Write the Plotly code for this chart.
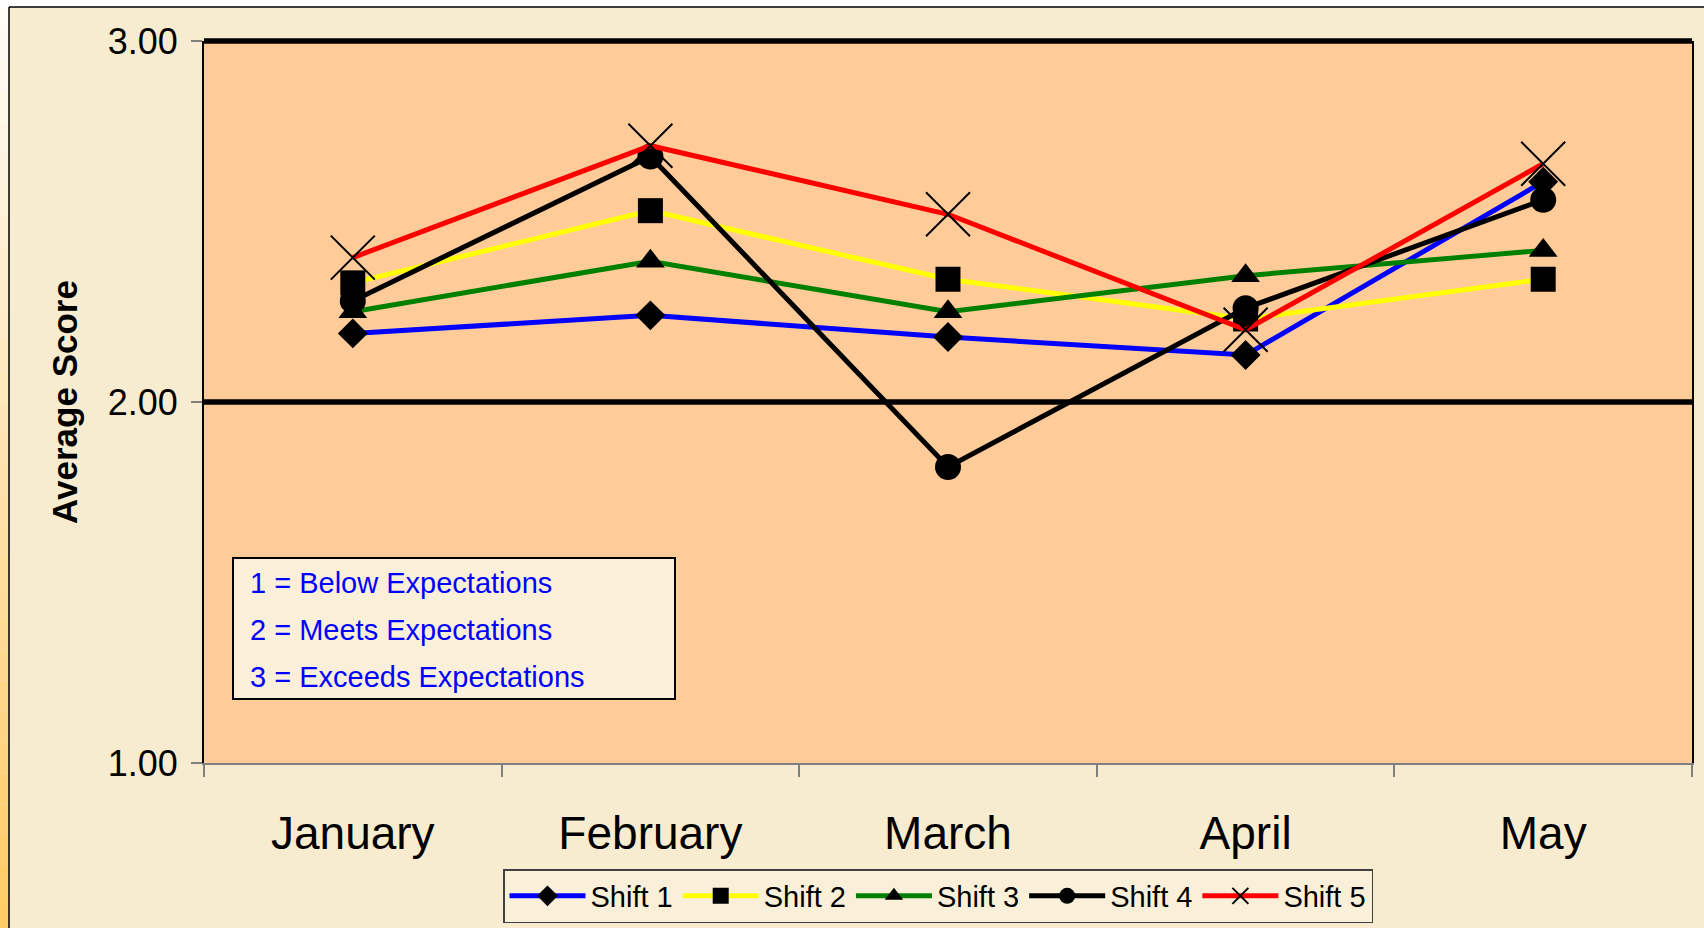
import plotly.graph_objects as go

months = ["January", "February", "March", "April", "May"]
series_names = ["Shift 1", "Shift 2", "Shift 3", "Shift 4", "Shift 5"]
shift1 = [2.19, 2.24, 2.18, 2.13, 2.61]
shift2 = [2.33, 2.53, 2.34, 2.23, 2.34]
shift3 = [2.25, 2.39, 2.25, 2.35, 2.42]
shift4 = [2.28, 2.68, 1.82, 2.26, 2.56]
shift5 = [2.40, 2.71, 2.52, 2.20, 2.66]
y_ticks = [1, 2, 3]
y_range = [1, 3]
grid_levels = [2, 3]
key_lines = ["1 = Below Expectations", "2 = Meets Expectations", "3 = Exceeds Expectations"]
key_levels = [1.498, 1.368, 1.239]

W, H = 1704, 928
L, R, T, B = 204, 12, 41, 165
PW = W - L - R
PH = H - T - B

def px(x):
    return (x - L) / PW

def py(y):
    return (H - B - y) / PH

line_colors = ["#0000FF", "#FFFF00", "#008000", "#000000", "#FF0000"]
symbols = ["diamond", "square", "triangle-up", "circle", "x-thin-open"]
sizes = [23, 25, 25, 26, 44]
all_series = [shift1, shift2, shift3, shift4, shift5]

fig = go.Figure()
for name, vals, c, s, sz in zip(series_names, all_series, line_colors, symbols, sizes):
    fig.add_trace(go.Scatter(
        x=months, y=vals, name=name, mode="lines+markers",
        line=dict(color=c, width=5),
        marker=dict(symbol=s, size=sz, color="black",
                    line=dict(color="black", width=2 if s == "x-thin-open" else 0)),
    ))

shapes = []
# left gradient strip
n = 30
c0 = (255, 252, 246)
c1 = (255, 204, 102)
for i in range(n):
    t = i / (n - 1)
    col = tuple(int(c0[k] + (c1[k] - c0[k]) * t) for k in range(3))
    y0 = i * H / n
    y1 = (i + 1) * H / n
    shapes.append(dict(type="rect", xref="paper", yref="paper",
                       x0=px(0), x1=px(9), y0=py(y1), y1=py(y0),
                       fillcolor="rgb(%d,%d,%d)" % col, line=dict(width=0), layer="below"))
# white band above frame
shapes.append(dict(type="rect", xref="paper", yref="paper", x0=px(0), x1=px(W), y0=py(7), y1=py(0),
                   fillcolor="white", line=dict(width=0), layer="below"))
# frame lines
shapes.append(dict(type="line", xref="paper", yref="paper", x0=px(9), x1=px(W), y0=py(7), y1=py(7),
                   line=dict(color="black", width=1.5)))
shapes.append(dict(type="line", xref="paper", yref="paper", x0=px(9), x1=px(9), y0=py(7), y1=py(H),
                   line=dict(color="black", width=1.5)))
# horizontal gridlines (paper-referenced so the top one is not clipped)
for g in grid_levels:
    gp = (g - y_range[0]) / (y_range[1] - y_range[0])
    shapes.append(dict(type="line", xref="paper", yref="paper", x0=0, x1=1, y0=gp, y1=gp,
                       line=dict(color="black", width=5.5), layer="below" if gp < 1 else "above"))
# key box
shapes.append(dict(type="rect", xref="paper", yref="y", x0=px(233), x1=px(675), y0=1.177, y1=1.568,
                   fillcolor="#FAF0D9", line=dict(color="black", width=2), layer="below"))

annotations = []
for txt, lv in zip(key_lines, key_levels):
    annotations.append(dict(x=px(248), y=lv, xref="paper", yref="y", text=txt, showarrow=False,
                            xanchor="left", yanchor="middle",
                            font=dict(family="Arial, Liberation Sans", size=29, color="#0000FF")))

fig.update_layout(
    width=W, height=H,
    margin=dict(l=L, r=R, t=T, b=B, pad=0, autoexpand=False),
    paper_bgcolor="#F8ECD0",
    plot_bgcolor="#FFCC99",
    font=dict(family="Arial, Liberation Sans", color="black"),
    showlegend=True,
    legend=dict(orientation="h", x=px(503), y=py(869), xanchor="left", yanchor="top",
                bgcolor="#FAF0D9", bordercolor="#404040", borderwidth=1.5,
                font=dict(size=29, family="Arial, Liberation Sans"), itemwidth=76,
                tracegroupgap=0),
    shapes=shapes,
    annotations=annotations,
    xaxis=dict(type="category", tickson="boundaries", ticks="outside", ticklen=12,
               tickcolor="#808080", tickwidth=1.5, showgrid=False, showline=True,
               linecolor="#808080", linewidth=1.5, tickfont=dict(size=46),
               ticklabelstandoff=29, range=[-0.5, 4.5], zeroline=False, automargin=False),
    yaxis=dict(range=y_range, tickvals=y_ticks, tickformat=".2f", ticks="outside", ticklen=11,
               tickcolor="#808080", tickwidth=1.5, showgrid=False, showline=True, mirror=True,
               linecolor="black", linewidth=2, tickfont=dict(size=36), zeroline=False,
               ticklabelstandoff=6, automargin=False,
               title=dict(text="<b>Average Score</b>", font=dict(size=35), standoff=19)),
)

fig.write_html("out.html", config={"displayModeBar": False},
               post_script="document.body.style.margin='0px';document.body.style.overflow='hidden';")
